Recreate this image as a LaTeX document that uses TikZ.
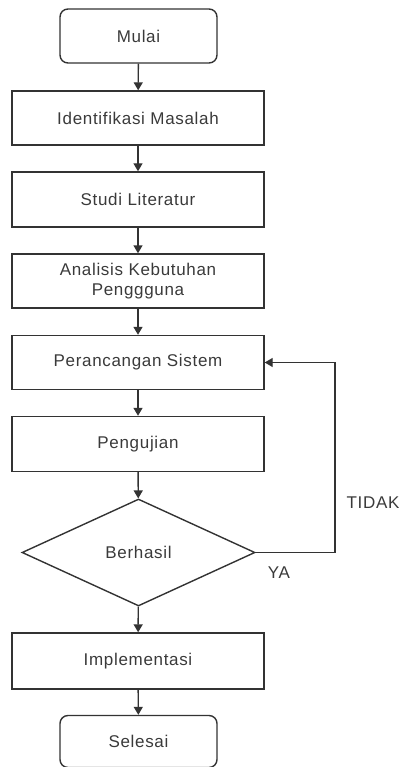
\documentclass[tikz,border=0pt]{standalone}
\usepackage{fontspec}
\setmainfont{Liberation Sans}[LetterSpace=4]
\usetikzlibrary{shapes.geometric,arrows.meta}
\definecolor{ln}{HTML}{333333}
\definecolor{tx}{HTML}{3A3A3A}
\begin{document}
\begin{tikzpicture}[x=1pt,y=-1pt,
  base/.style={draw=ln,line width=1.4pt,text=tx,font=\fontsize{17}{19.5}\selectfont,inner sep=0pt,align=center},
  proc/.style={base,rectangle,minimum width=252pt,minimum height=54pt},
  term/.style={base,rectangle,rounded corners=8pt,minimum width=157pt,minimum height=54pt},
  dec/.style={base,diamond,minimum width=233pt,minimum height=107pt},
  arr/.style={draw=ln,line width=1.4pt,-{Triangle[length=8pt,width=9pt]}},
  lbl/.style={text=tx,font=\fontsize{17}{19.5}\selectfont,inner sep=0pt}]
\useasboundingbox (0,0) rectangle (401,767);
\node[term] (mulai) at (138.5,36) {Mulai};
\node[proc] (ident) at (138,118) {Identifikasi Masalah};
\node[proc,minimum height=55pt] (studi) at (138,199.5) {Studi Literatur};
\node[proc] (anal) at (138,281) {Analisis Kebutuhan\\Penggguna};
\node[proc] (peran) at (138,362.5) {Perancangan Sistem};
\node[proc,minimum height=55pt] (uji) at (138,444) {Pengujian};
\node[dec] (hasil) at (138.5,552.5) {Berhasil};
\node[proc,minimum height=56pt] (impl) at (138,661) {Implementasi};
\node[term,minimum height=52pt] (selesai) at (138.5,741.5) {Selesai};
\coordinate (loopx) at (335,0);
\draw[arr] (mulai) -- (ident);
\draw[arr] (ident) -- (studi);
\draw[arr] (studi) -- (anal);
\draw[arr] (anal) -- (peran);
\draw[arr] (peran) -- (uji);
\draw[arr] (uji) -- (hasil);
\draw[arr] (hasil) -- (impl);
\draw[arr] (impl) -- (selesai);
\draw[arr] (hasil.east) -- (hasil.east -| loopx) |- (peran.east);
\node[lbl] (tidak) at (373,503) {TIDAK};
\node[lbl] (ya) at (279,573) {YA};
\end{tikzpicture}
\end{document}
